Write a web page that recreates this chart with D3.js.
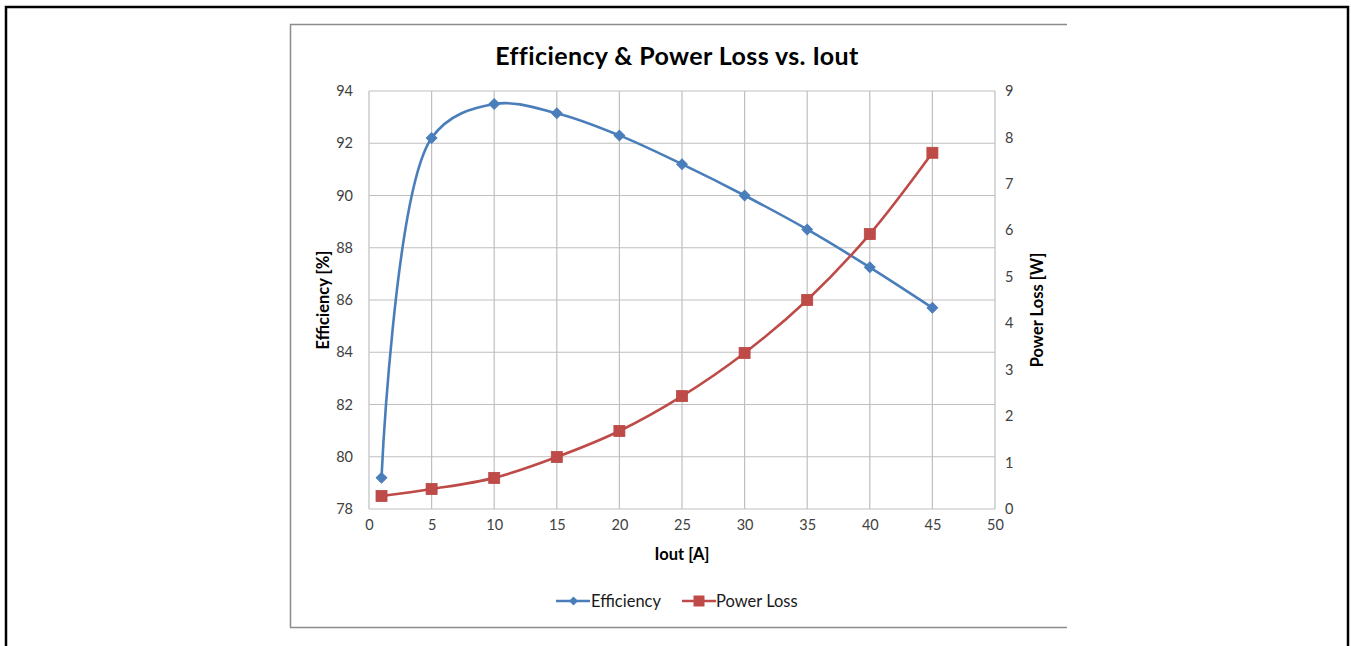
<!DOCTYPE html>
<html><head><meta charset="utf-8">
<script src="https://cdn.jsdelivr.net/npm/d3@7/dist/d3.min.js"></script>
<style>
html,body{margin:0;padding:0;background:#fff;}
svg{display:block;font-family:Lato,"Open Sans",sans-serif;}
</style></head>
<body><svg id="c" width="1351" height="646"></svg>
<script>
const iout = [1, 5, 10, 15, 20, 25, 30, 35, 40, 45];
const efficiency = [79.2, 92.2, 93.5, 93.15, 92.3, 91.2, 90.0, 88.7, 87.25, 85.7];
const powerLoss = [0.28, 0.43, 0.67, 1.12, 1.68, 2.43, 3.36, 4.5, 5.92, 7.67];
const xTicks = [0, 5, 10, 15, 20, 25, 30, 35, 40, 45, 50];
const effTicks = [78, 80, 82, 84, 86, 88, 90, 92, 94];
const lossTicks = [0, 1, 2, 3, 4, 5, 6, 7, 8, 9];
const seriesNames = ["Efficiency", "Power Loss"];

const svg = d3.select("#c");
const blue = "#4A7EBB", red = "#BE4B48", grid = "#BFBFBF", txt = "#404040";
const L = 369, R = 995, T = 91, B = 509;

// outer black frame
svg.append("rect").attr("x", 6).attr("y", 7).attr("width", 1342).attr("height", 660)
  .attr("fill", "none").attr("stroke", "#000").attr("stroke-width", 2.5);
// chart box (left, top, bottom)
svg.append("path").attr("d", "M1067,24.5H290.5V627.5H1067")
  .attr("fill", "none").attr("stroke", "#8c8c8c").attr("stroke-width", 1.5);

const x = d3.scaleLinear().domain([0, 50]).range([L, R]);
const yE = d3.scaleLinear().domain([78, 94]).range([B, T]);
const yP = d3.scaleLinear().domain([0, 9]).range([B, T]);

// gridlines
const g = svg.append("g");
g.selectAll(".hg").data(effTicks).join("line")
  .attr("x1", L).attr("x2", R).attr("y1", d => yE(d)).attr("y2", d => yE(d))
  .attr("stroke", grid).attr("stroke-width", 1.2);
g.selectAll(".vg").data(xTicks).join("line")
  .attr("y1", T).attr("y2", B).attr("x1", d => x(d)).attr("x2", d => x(d))
  .attr("stroke", grid).attr("stroke-width", 1.2);

// axes
const tf = 14.5;
const ax = d3.axisBottom(x).tickValues(xTicks).tickSize(0).tickPadding(11);
svg.append("g").attr("transform", `translate(0,${B})`).call(ax)
  .call(s => s.select(".domain").remove())
  .selectAll("text").attr("font-size", tf).attr("fill", txt).attr("font-family", "Lato");
const al = d3.axisLeft(yE).tickValues(effTicks).tickSize(0).tickPadding(16);
svg.append("g").attr("transform", `translate(${L},0)`).call(al)
  .call(s => s.select(".domain").remove())
  .selectAll("text").attr("font-size", tf).attr("fill", txt).attr("font-family", "Lato");
const ar = d3.axisRight(yP).tickValues(lossTicks).tickSize(0).tickPadding(10);
svg.append("g").attr("transform", `translate(${R},0)`).call(ar)
  .call(s => s.select(".domain").remove())
  .selectAll("text").attr("font-size", tf).attr("fill", txt).attr("font-family", "Lato");

// titles
svg.append("text").attr("x", 677).attr("y", 65).attr("text-anchor", "middle")
  .attr("font-size", 25).attr("font-weight", "bold").attr("letter-spacing", 0.4).attr("fill", "#000").text("Efficiency & Power Loss vs. Iout");
svg.append("text").attr("x", (L + R) / 2).attr("y", 560).attr("text-anchor", "middle")
  .attr("font-size", 16.5).attr("font-weight", "bold").attr("fill", "#000").text("Iout [A]");
svg.append("text").attr("transform", `translate(329,${(T + B) / 2}) rotate(-90)`).attr("text-anchor", "middle")
  .attr("font-size", 16.5).attr("font-weight", "bold").attr("fill", "#000").text("Efficiency [%]");
svg.append("text").attr("transform", `translate(1043,${(T + B) / 2 + 10}) rotate(-90)`).attr("text-anchor", "middle")
  .attr("font-size", 16.5).attr("font-weight", "bold").attr("fill", "#000").text("Power Loss [W]");

// lines
const curve = d3.curveCatmullRom.alpha(0.5);
const lineE = d3.line().x((d, i) => x(iout[i])).y(d => yE(d)).curve(curve);
const lineP = d3.line().x((d, i) => x(iout[i])).y(d => yP(d)).curve(curve);
svg.append("path").attr("d", lineE(efficiency)).attr("fill", "none").attr("stroke", blue).attr("stroke-width", 2.6);
svg.append("path").attr("d", lineP(powerLoss)).attr("fill", "none").attr("stroke", red).attr("stroke-width", 2.6);

svg.selectAll(".me").data(efficiency).join("path")
  .attr("d", d3.symbol().type(d3.symbolSquare).size(56))
  .attr("transform", (d, i) => `translate(${x(iout[i])},${yE(d)}) rotate(45)`)
  .attr("fill", blue).attr("stroke", blue).attr("stroke-width", 1);
svg.selectAll(".mp").data(powerLoss).join("rect")
  .attr("x", (d, i) => x(iout[i]) - 5.5).attr("y", d => yP(d) - 5.5)
  .attr("width", 11).attr("height", 11).attr("fill", red).attr("stroke", "#B84744").attr("stroke-width", 0.8);

// legend
const lg = svg.append("g");
lg.append("line").attr("x1", 556).attr("x2", 590).attr("y1", 601).attr("y2", 601).attr("stroke", blue).attr("stroke-width", 2.6);
lg.append("path").attr("d", d3.symbol().type(d3.symbolSquare).size(40)()).attr("transform", "translate(573.5,601) rotate(45)").attr("fill", blue);
lg.append("text").attr("x", 591).attr("y", 607).attr("font-size", 16.5).attr("fill", "#1a1a1a").text(seriesNames[0]);
lg.append("line").attr("x1", 682).attr("x2", 716).attr("y1", 601).attr("y2", 601).attr("stroke", red).attr("stroke-width", 2.6);
lg.append("rect").attr("x", 693.5).attr("y", 595.5).attr("width", 11).attr("height", 11).attr("fill", red);
lg.append("text").attr("x", 716).attr("y", 607).attr("font-size", 16.5).attr("fill", "#1a1a1a").text(seriesNames[1]);
</script></body></html>
